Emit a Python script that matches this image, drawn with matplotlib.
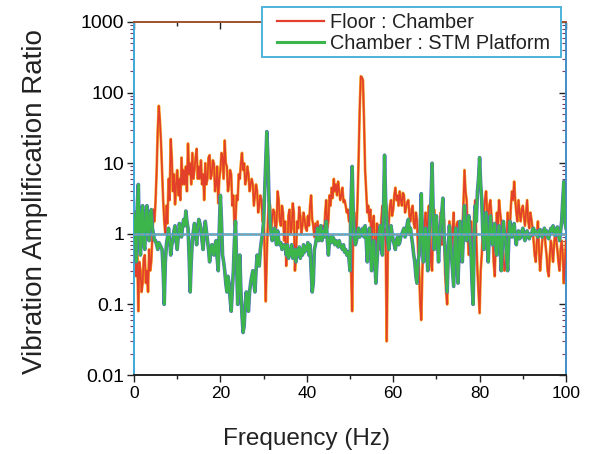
import numpy as np
import matplotlib
matplotlib.use("Agg")
import matplotlib.pyplot as plt
from matplotlib.ticker import LogLocator, NullFormatter, FixedLocator
from matplotlib.lines import Line2D
from matplotlib.patches import Rectangle

plt.rcParams['font.family'] = ['Liberation Sans', 'DejaVu Sans']

# Frequency grid (Hz), 0.25 Hz steps
freq = np.arange(0, 100.001, 0.25)

# Floor : Chamber amplification ratio (one row per 5 Hz)
floor_chamber = [
    0.6, 0.9, 0.25, 0.5, 0.08, 0.4, 0.3, 0.15, 0.2, 0.45, 0.5, 0.2, 0.3, 0.15, 0.6, 0.3, 0.4, 0.9, 2.2, 1.5,
    3.0, 8, 30, 65, 40, 20, 8, 3, 1.5, 1.0, 2.5, 1.4, 6, 3, 22, 12, 4, 7, 2.6, 5,
    8, 3.5, 6, 3, 12, 5, 8, 5, 9, 4, 19, 7, 10, 5, 14, 6, 8, 12, 16, 6,
    9, 6, 11, 5, 7, 3, 10, 5, 6, 12, 13, 6, 7, 11, 10, 4, 5, 9, 2.7, 6,
    8, 14, 12, 6, 21, 10, 9, 4, 5, 8, 7, 2.5, 3.5, 1.3, 1.5, 3.5, 3, 7, 6, 10,
    14, 8, 10, 5, 6, 9, 7, 4, 5, 6, 5, 2.5, 3.5, 5, 4, 2, 2.6, 3.5, 3, 1.5,
    2.5, 0.5, 0.11, 0.5, 1.5, 3, 2.5, 1.2, 1.6, 2.2, 2, 1.0, 1.4, 4, 3, 1.5, 1.3, 2.5, 2, 0.8,
    1.5, 0.35, 0.6, 1.8, 2.2, 1.0, 1.2, 2.7, 2.0, 0.3, 0.5, 1.5, 1.2, 2.4, 1.8, 1.0, 1.3, 2, 1.6, 1.2,
    1.1, 1.8, 1.3, 2.5, 3.5, 1.6, 1.3, 0.9, 1.4, 0.8, 1.5, 1.0, 0.8, 1.2, 0.9, 1.3, 0.9, 2.0, 3.0, 1.2,
    1.5, 3.5, 2.5, 4.5, 3.2, 6.0, 4.0, 5.0, 3.5, 5.5, 4.0, 3.0, 3.5, 4.5, 2.8, 3.0, 2.5, 2.0, 2.2, 1.5,
    1.5, 0.3, 0.08, 1.2, 2.0, 1.3, 1.0, 3, 12, 60, 170, 165, 150, 40, 8, 4, 2, 2.5, 1.5, 2.2,
    0.6, 1.5, 1.8, 0.7, 0.5, 1.4, 1.2, 0.6, 0.7, 1.6, 2.5, 1.0, 1.2, 0.8, 0.03, 0.5, 1.5, 2.5, 3, 1.8,
    2.2, 3.5, 4.5, 3.0, 3.5, 2.5, 4.0, 3.0, 2.5, 3.8, 3.5, 2.0, 2.4, 2.8, 3.0, 1.8, 1.5, 2.2, 2.5, 1.4,
    1.2, 2.0, 1.6, 0.6, 0.3, 0.1, 0.06, 0.3, 0.8, 1.5, 2.0, 1.0, 1.5, 2.5, 1.8, 0.4, 0.3, 1.5, 2.2, 1.0,
    1.5, 0.8, 0.5, 1.2, 2.0, 0.7, 1.0, 1.6, 0.3, 0.15, 0.1, 0.6, 1.5, 0.9, 0.6, 1.2, 2.0, 0.5, 0.8, 1.4,
    1.5, 0.7, 0.4, 1.0, 1.2, 2.5, 8, 4, 3, 1.0, 0.5, 1.2, 1.5, 0.6, 0.8, 2.0, 3, 0.8, 0.3, 0.15,
    0.075, 0.3, 0.5, 1.2, 2.0, 3.0, 4.0, 2.0, 1.5, 2.5, 3.0, 1.8, 1.0, 0.4, 0.25, 0.8, 2.0, 1.2, 3.0, 2.0,
    1.5, 0.8, 0.5, 0.3, 0.35, 0.7, 2.0, 1.0, 1.2, 2.5, 4.0, 3.0, 5.5, 3.0, 2.0, 1.5, 3.0, 2.0, 1.5, 2.2,
    2.5, 1.8, 1.3, 2.0, 3.0, 1.5, 1.2, 2.0, 1.6, 1.2, 0.8, 0.5, 0.4, 0.8, 1.5, 0.6, 0.3, 0.5, 0.8, 1.1,
    1.2, 0.7, 0.5, 0.3, 0.25, 0.5, 0.8, 0.6, 0.4, 0.7, 1.1, 0.8, 0.6, 0.4, 0.3, 0.6, 0.8, 0.5, 0.2, 0.4,
    0.8,
]

# Chamber : STM Platform amplification ratio (one row per 5 Hz)
chamber_stm = [
    2, 1.0, 0.4, 2.5, 5, 1.0, 0.5, 2.0, 2.5, 0.7, 0.6, 2.0, 2.5, 1.0, 0.8, 2.0, 2.2, 1.2, 1.0, 0.8,
    0.8, 0.7, 0.6, 0.75, 0.7, 0.65, 0.6, 0.3, 0.1, 0.4, 0.7, 0.9, 1.2, 0.8, 0.5, 0.7, 0.8, 1.1, 1.3, 0.8,
    0.6, 0.9, 1.4, 1.1, 0.9, 1.3, 1.6, 1.3, 2.1, 1.5, 1.2, 0.5, 0.15, 0.4, 0.8, 1.1, 1.4, 1.0, 0.7, 1.2,
    1.6, 1.4, 1.2, 0.8, 0.6, 1.0, 1.5, 1.1, 0.8, 0.6, 0.4, 0.55, 0.7, 0.6, 0.5, 0.7, 0.8, 0.45, 0.3, 1.2,
    3.5, 1.5, 0.5, 0.4, 0.3, 0.2, 0.15, 0.25, 0.2, 0.12, 0.08, 0.15, 0.3, 0.8, 1.5, 0.4, 0.1, 0.2, 0.5, 0.15,
    0.07, 0.04, 0.05, 0.1, 0.15, 0.1, 0.08, 0.15, 0.2, 0.25, 0.3, 0.2, 0.15, 0.3, 0.5, 0.4, 0.35, 0.6, 0.8, 1.0,
    1.5, 4, 10, 28, 12, 3, 1.5, 1.0, 0.8, 1.0, 1.2, 0.9, 0.7, 1.1, 0.8, 0.7, 0.75, 0.6, 0.65, 0.7,
    0.65, 0.5, 0.7, 0.45, 0.6, 0.5, 0.7, 0.45, 0.55, 0.6, 0.4, 0.6, 0.5, 0.65, 0.45, 0.6, 0.5, 0.7, 0.55, 0.65,
    0.6, 0.75, 0.5, 0.7, 0.3, 0.15, 0.2, 0.6, 0.7, 0.9, 1.2, 0.8, 0.9, 1.3, 0.8, 1.1, 0.9, 1.2, 1.5, 0.8,
    0.5, 0.8, 0.9, 0.75, 0.9, 0.85, 0.7, 0.8, 0.75, 0.65, 0.8, 0.7, 0.65, 0.6, 0.7, 0.55, 0.6, 0.5, 0.55, 0.45,
    0.3, 3, 9, 2, 0.9, 0.7, 0.8, 1.0, 1.2, 0.9, 1.0, 1.1, 1.2, 0.9, 1.3, 0.8, 0.4, 0.8, 1.2, 0.6,
    0.3, 0.6, 0.8, 0.4, 0.2, 0.4, 0.7, 1.0, 1.3, 0.8, 0.5, 2.0, 13, 3, 1.5, 0.8, 0.6, 0.9, 1.3, 1.0,
    0.8, 0.7, 0.6, 0.8, 0.9, 0.7, 0.75, 0.9, 1.0, 1.1, 1.2, 0.9, 1.0, 1.4, 1.6, 1.0, 1.2, 0.9, 0.7, 0.5,
    0.4, 0.25, 0.2, 0.4, 0.5, 1.2, 3.7, 0.8, 0.4, 0.9, 1.2, 0.6, 0.3, 0.8, 1.5, 3, 10, 2, 0.6, 1.0,
    1.8, 0.8, 0.4, 0.9, 1.4, 2.0, 3.2, 1.0, 0.6, 0.3, 0.15, 0.6, 1.3, 0.8, 0.5, 0.3, 0.18, 0.6, 1.2, 0.5,
    0.2, 0.6, 1.5, 0.8, 0.4, 1.0, 2.5, 1.2, 0.8, 1.3, 1.8, 0.9, 0.6, 0.2, 0.1, 0.8, 2.5, 1.5, 4, 6,
    12, 5, 3, 1.0, 0.6, 1.2, 2, 0.8, 0.4, 1.0, 1.8, 0.9, 0.7, 1.2, 1.4, 0.6, 0.5, 0.9, 1.3, 0.7,
    0.3, 0.7, 1.5, 1.0, 0.8, 0.5, 0.3, 0.8, 1.5, 1.1, 0.9, 1.2, 1.4, 0.9, 0.7, 1.0, 1.1, 0.85, 0.9, 1.05,
    1.2, 0.9, 0.8, 1.05, 1.1, 0.9, 0.85, 1.0, 0.95, 1.15, 1.2, 1.0, 1.1, 0.95, 0.9, 1.1, 1.15, 0.95, 0.9, 1.05,
    1.2, 1.0, 1.1, 0.9, 0.85, 1.05, 1.2, 1.1, 1.3, 1.0, 0.95, 1.15, 1.25, 1.0, 0.8, 1.1, 1.5, 3, 5.5, 1.5,
    1.2,
]

series_labels = ["Floor : Chamber", "Chamber : STM Platform"]
x_ticks = [0, 20, 40, 60, 80, 100]
y_ticks = [0.01, 0.1, 1, 10, 100, 1000]
y_tick_labels = ["0.01", "0.1", "1", "10", "100", "1000"]

W, H = 594, 454
fig = plt.figure(figsize=(W / 100, H / 100), dpi=100)
ax = fig.add_axes([134 / W, 1 - 375 / H, 432 / W, 353 / H])

# Floor : Chamber (with a soft orange halo)
ax.plot(freq, floor_chamber, color="#f7a21b", lw=2.0, zorder=2)
ax.plot(freq, floor_chamber, color="#e2402b", lw=1.2, zorder=3)
# Chamber : STM Platform (with a bluish halo)
ax.plot(freq, chamber_stm, color="#5470c6", lw=2.6, zorder=4)
ax.plot(freq, chamber_stm, color="#3cb54a", lw=1.8, zorder=5)

# Unity reference line
ax.axhline(1, color="#3fa9d8", lw=1.8, zorder=6)
ax.axhline(1, color="#9a9a9a", lw=1.0, ls=(0, (3, 1)), zorder=7)

ax.set_yscale("log")
ax.set_xlim(0, 100)
ax.set_ylim(0.01, 1000)

ax.xaxis.set_major_locator(FixedLocator(x_ticks))
ax.xaxis.set_minor_locator(FixedLocator([10, 30, 50, 70, 90]))
ax.set_xticklabels([str(t) for t in x_ticks], fontsize=12.5)
ax.yaxis.set_major_locator(FixedLocator(y_ticks))
ax.set_yticklabels(y_tick_labels, fontsize=14)
ax.yaxis.set_minor_locator(LogLocator(base=10, subs=np.arange(2, 10)))
ax.yaxis.set_minor_formatter(NullFormatter())

ax.tick_params(axis="x", which="major", direction="out", length=5, width=1, top=True,
               pad=3, color="#222222")
ax.tick_params(axis="x", which="minor", direction="out", length=3, width=1, top=True,
               color="#222222")
ax.tick_params(axis="y", which="major", direction="out", length=5, width=1, right=True,
               pad=2, color="#222222")
ax.tick_params(axis="y", which="minor", direction="out", length=3, width=0.8, right=True,
               color="#7a3b6b")
# Mirrored ticks on the top and right edges point into the plot
for t in ax.xaxis.get_major_ticks() + ax.xaxis.get_minor_ticks():
    t.tick2line.set_marker(3)
for t in ax.yaxis.get_major_ticks() + ax.yaxis.get_minor_ticks():
    t.tick2line.set_marker(0)

ax.spines["left"].set_color("#3fa9d8")
ax.spines["right"].set_color("#3f8fc8")
ax.spines["top"].set_color("#a0522d")
ax.spines["bottom"].set_color("#222222")
for s in ax.spines.values():
    s.set_linewidth(1.4)

ax.set_xlabel("Frequency (Hz)", fontsize=17.5, color="#222222")
ax.xaxis.set_label_coords(0.40, -0.15)
ax.set_ylabel("Vibration Amplification Ratio", fontsize=20, color="#222222")
ax.yaxis.set_label_coords(-0.199, 0.49)

# Legend box straddling the top edge of the axes
fig.patches.append(Rectangle((262 / W, 1 - 57 / H), 299 / W, 50 / H,
                             transform=fig.transFigure, facecolor="white",
                             edgecolor="#4fb3d9", lw=1.4, zorder=9))
handles = [Line2D([], [], color="#e2402b", lw=1.6),
           Line2D([], [], color="#3cb54a", lw=2.2)]
leg = fig.legend(handles, series_labels, loc="upper left",
                 bbox_to_anchor=(277 / W, 1 - 13 / H), bbox_transform=fig.transFigure,
                 borderaxespad=0, borderpad=0, fontsize=14.3, handlelength=2.35,
                 handletextpad=0.3, labelspacing=0.12, frameon=False)
leg.set_zorder(10)
for txt in leg.get_texts():
    txt.set_color("#222222")

fig.savefig("out.png", dpi=100)
